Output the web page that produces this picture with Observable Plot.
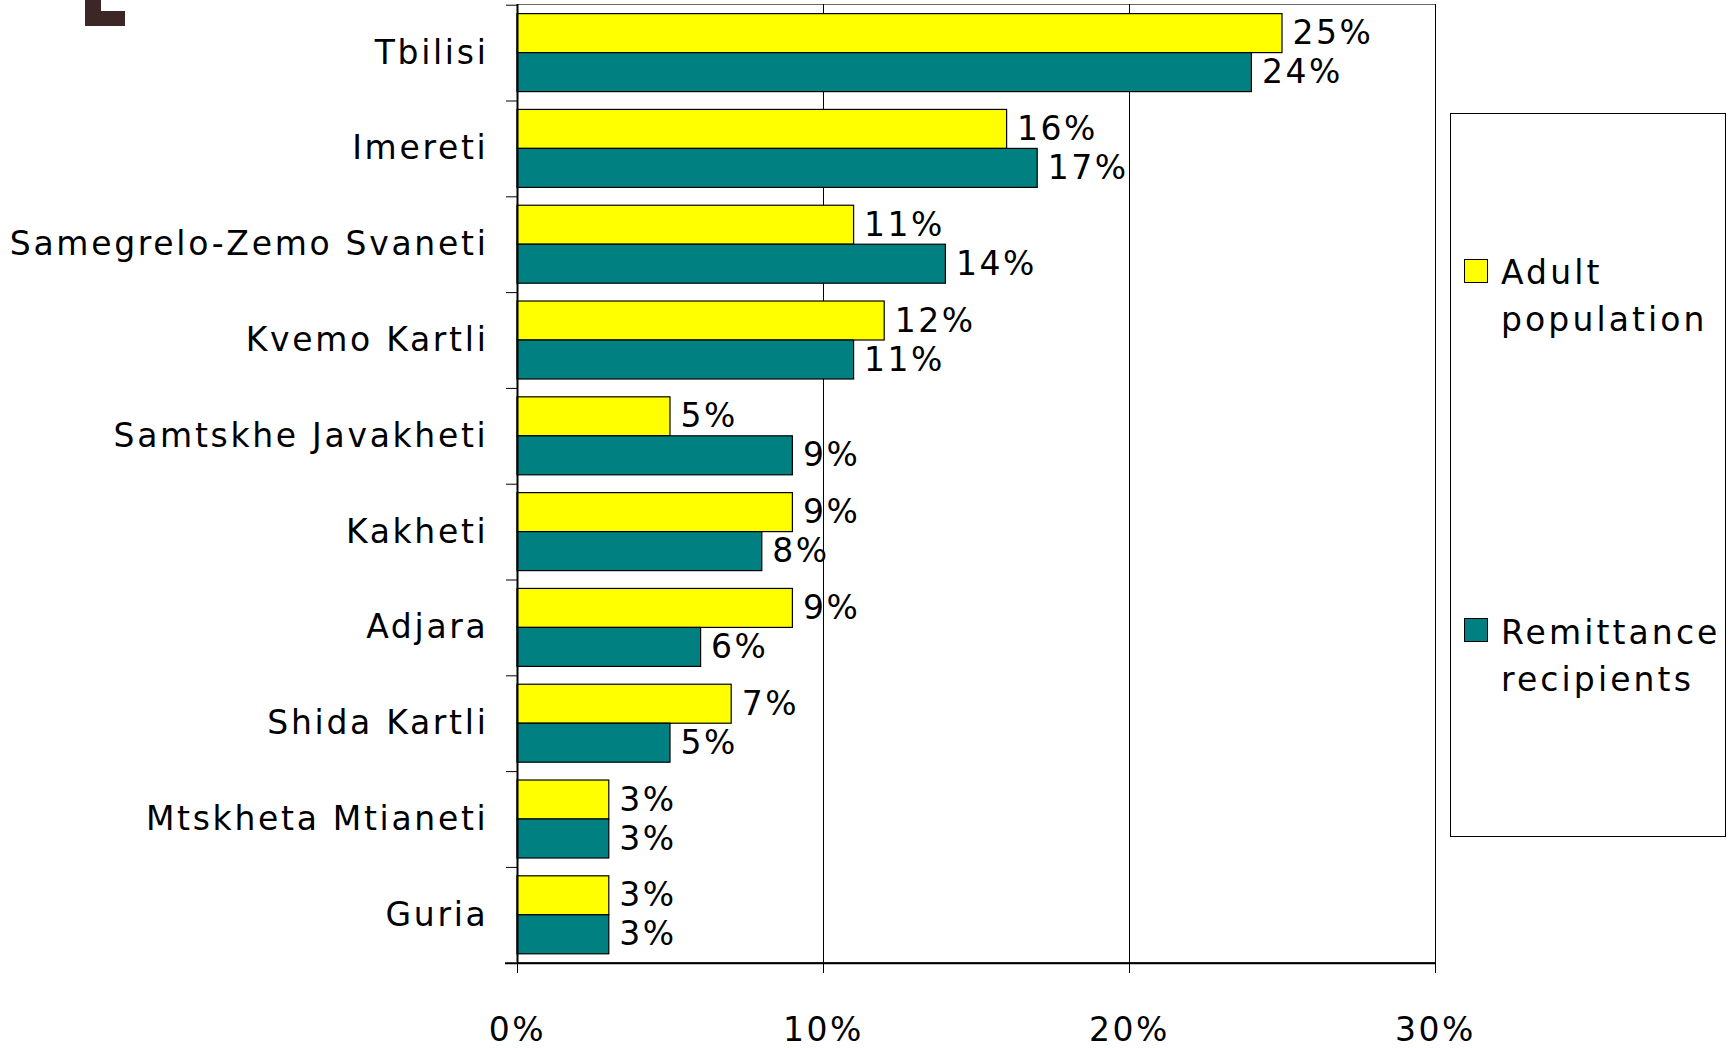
<!DOCTYPE html>
<html>
<head>
<meta charset="utf-8">
<script src="https://cdn.jsdelivr.net/npm/d3@7"></script>
<script src="https://cdn.jsdelivr.net/npm/@observablehq/plot@0.6"></script>
<style>
  html, body { margin: 0; padding: 0; background: #fff; }
  #wrap { position: relative; width: 1731px; height: 1048px; overflow: hidden; font-family: "DejaVu Sans", sans-serif; }
  #chart svg text { letter-spacing: 2.5px; }
  #chart svg g[aria-label="y-axis tick label"] text { letter-spacing: 2.7px; }
  #corner1 { position: absolute; left: 85px; top: 0; width: 16px; height: 26px; background: #3d2626; }
  #corner2 { position: absolute; left: 85px; top: 11px; width: 40px; height: 15px; background: #3d2626; }
  #legend { position: absolute; left: 1450px; top: 113px; width: 274px; height: 722px; border: 1px solid #000; background: #fff; }
  .item { position: absolute; left: 0; width: 274px; font-size: 33px; letter-spacing: 3.1px; line-height: 47px; color: #000; }
  .sw { position: absolute; left: 13px; width: 22px; height: 22px; border: 1px solid #000; }
  .lab { position: absolute; left: 50px; width: 224px; }
</style>
</head>
<body>
<div id="wrap">
  <div id="chart"></div>
  <div id="corner1"></div><div id="corner2"></div>
  <div id="legend"></div>
</div>
<script>
const regions = ["Tbilisi", "Imereti", "Samegrelo-Zemo Svaneti", "Kvemo Kartli", "Samtskhe Javakheti", "Kakheti", "Adjara", "Shida Kartli", "Mtskheta Mtianeti", "Guria"];
const adultPopulation = [25, 16, 11, 12, 5, 9, 9, 7, 3, 3];
const remittanceRecipients = [24, 17, 14, 11, 9, 8, 6, 5, 3, 3];
const seriesNames = ["Adult population", "Remittance recipients"];
const seriesColors = ["#ffff00", "#008080"];
const xTicks = [0, 10, 20, 30];

const rows = regions.map((r, i) => ({region: r, adult: adultPopulation[i], remit: remittanceRecipients[i]}));

const W = 1731, H = 1048, mL = 517, mR = 296, mT = 4, mB = 86;
const pInner = 0.186, pOuter = 0.093;
const innerW = W - mL - mR;
const innerH = H - mT - mB;
const step = innerH / (regions.length - pInner + 2 * pOuter);
const bw = step * (1 - pInner);
const half = bw / 2;
const fmt = d => d + "%";

const chart = Plot.plot({
  width: W, height: H,
  marginLeft: mL, marginRight: mR, marginTop: mT, marginBottom: mB,
  style: {fontFamily: "DejaVu Sans, sans-serif", fontSize: "33px", color: "#000", background: "#fff", overflow: "visible"},
  x: {domain: [0, 30], label: null},
  y: {domain: regions, paddingInner: pInner, paddingOuter: pOuter, align: 0.54, round: false, label: null},
  marks: [
    Plot.frame({stroke: "#6a6a6a", strokeWidth: 1}),
    Plot.ruleX(xTicks.slice(1), {stroke: "#000", strokeWidth: 1}),
    Plot.barX(rows, {x: "adult", y: "region", fill: seriesColors[0], stroke: "#000", strokeWidth: 1.2, insetBottom: half}),
    Plot.barX(rows, {x: "remit", y: "region", fill: seriesColors[1], stroke: "#000", strokeWidth: 1.2, insetTop: half}),
    Plot.text(rows, {x: "adult", y: "region", text: d => fmt(d.adult), dx: 10, dy: -half / 2, textAnchor: "start", fill: "#000"}),
    Plot.text(rows, {x: "remit", y: "region", text: d => fmt(d.remit), dx: 10, dy: half / 2, textAnchor: "start", fill: "#000"}),
    Plot.ruleX([0], {stroke: "#000", strokeWidth: 2}),
    Plot.ruleY(regions, {y: d => d, dy: -step / 2, insetLeft: -11, insetRight: innerW, stroke: "#000", strokeWidth: 1}),
    Plot.ruleY(regions.slice(-1), {y: d => d, dy: step / 2, insetLeft: -12, stroke: "#000", strokeWidth: 2}),
    Plot.axisX({ticks: xTicks, tickFormat: fmt, tickSize: 11, tickPadding: 44, stroke: "#000", strokeWidth: 1, label: null}),
    Plot.axisY({tickSize: 0, tickPadding: 29, label: null})
  ]
});
document.getElementById("chart").appendChild(chart);

const legend = document.getElementById("legend");
const itemTops = [135, 495];
const swTops = [10, 9];
seriesNames.forEach((name, i) => {
  const item = document.createElement("div");
  item.className = "item";
  item.style.top = itemTops[i] + "px";
  const sw = document.createElement("div");
  sw.className = "sw";
  sw.style.top = swTops[i] + "px";
  sw.style.background = seriesColors[i];
  const lab = document.createElement("div");
  lab.className = "lab";
  lab.textContent = name;
  item.appendChild(sw);
  item.appendChild(lab);
  legend.appendChild(item);
});
</script>
</body>
</html>
